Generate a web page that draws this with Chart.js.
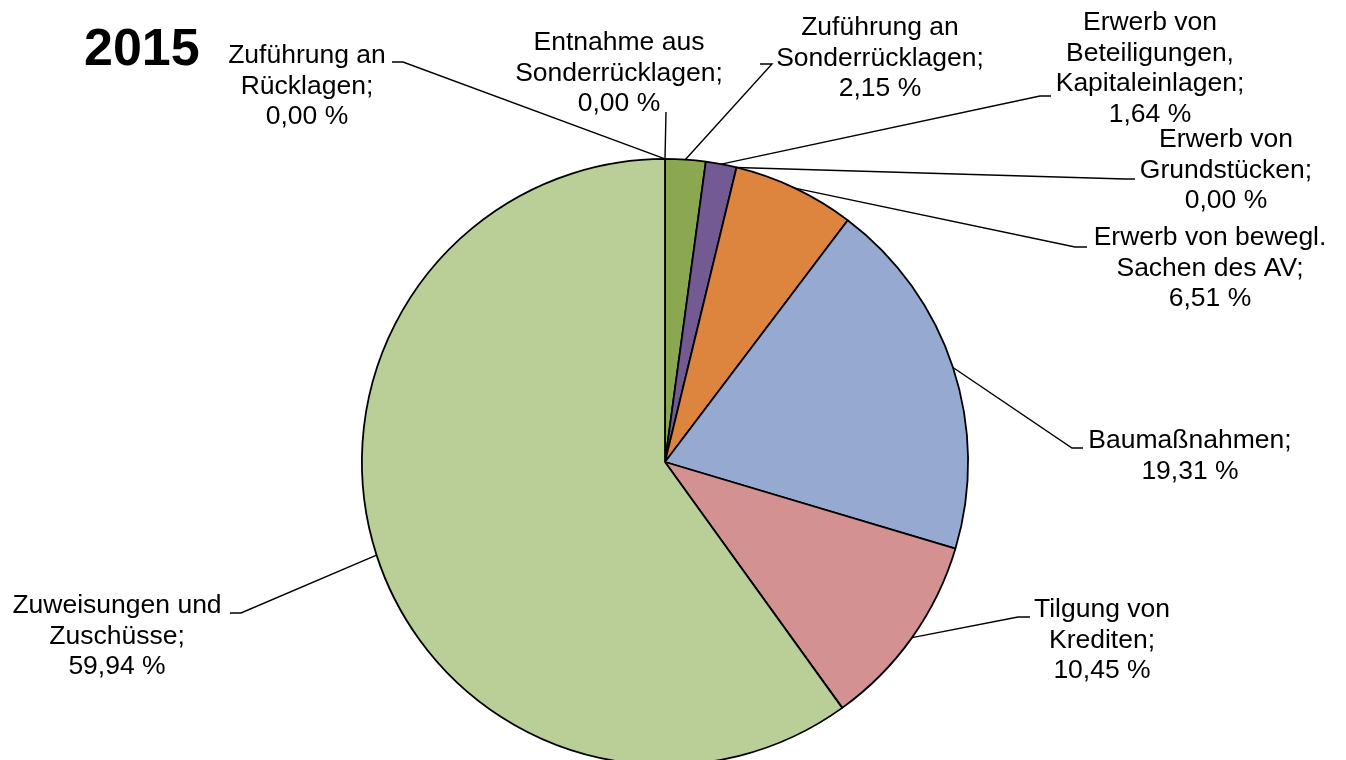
<!DOCTYPE html>
<html>
<head>
<meta charset="utf-8">
<script src="https://cdn.jsdelivr.net/npm/chart.js@4.4.1/dist/chart.umd.min.js"></script>
<style>
    html, body { margin: 0; padding: 0; background: #fff; overflow: hidden; }
    #wrap { position: relative; width: 1346px; height: 800px; }
</style>
</head>
<body>
<div id="wrap"><canvas id="pieChart" width="1346" height="800"></canvas></div>
<script>
// Data
const categories = [
    'Zuführung an Rücklagen',
    'Entnahme aus Sonderrücklagen',
    'Zuführung an Sonderrücklagen',
    'Erwerb von Beteiligungen, Kapitaleinlagen',
    'Erwerb von Grundstücken',
    'Erwerb von bewegl. Sachen des AV',
    'Baumaßnahmen',
    'Tilgung von Krediten',
    'Zuweisungen und Zuschüsse'
];
const labelLines = [
    ['Zuführung an', 'Rücklagen;'],
    ['Entnahme aus', 'Sonderrücklagen;'],
    ['Zuführung an', 'Sonderrücklagen;'],
    ['Erwerb von', 'Beteiligungen,', 'Kapitaleinlagen;'],
    ['Erwerb von', 'Grundstücken;'],
    ['Erwerb von bewegl.', 'Sachen des AV;'],
    ['Baumaßnahmen;'],
    ['Tilgung von', 'Krediten;'],
    ['Zuweisungen und', 'Zuschüsse;']
];
const shares = [0.00, 0.00, 2.15, 1.64, 0.00, 6.51, 19.31, 10.45, 59.94];
const sliceColors = ['#8BA851', '#8BA851', '#8BA851', '#735A92', '#DD843F', '#DD843F', '#95A9D1', '#D39291', '#B9CF97'];
const yearTitle = '2015';

// Label placement: text centre x, first baseline, leader elbow and anchor
const labelLayout = [
    { cx: 307,  y: 63,  elbow: [403, 62],  anchor: [392, 62] },
    { cx: 619,  y: 50,  elbow: [666, 112], anchor: [666, 112] },
    { cx: 880,  y: 35,  elbow: [772, 64],  anchor: [760, 64] },
    { cx: 1150, y: 30,  elbow: [1040, 96], anchor: [1051, 96] },
    { cx: 1226, y: 147, elbow: [1125, 179], anchor: [1135, 179] },
    { cx: 1210, y: 245, elbow: [1075, 247], anchor: [1087, 247] },
    { cx: 1190, y: 448, elbow: [1072, 448], anchor: [1083, 448] },
    { cx: 1102, y: 617, elbow: [1018, 617], anchor: [1030, 617] },
    { cx: 117,  y: 613, elbow: [241, 613], anchor: [230, 613] }
];
const lineHeight = 30.7;
const labelFont = '26.5px "Liberation Sans", Arial, sans-serif';

function fmtPercent(v) {
    return v.toFixed(2).replace('.', ',') + ' %';
}

// Draws leader lines + data labels like the Excel original
const leaderLabels = {
    id: 'leaderLabels',
    afterDatasetsDraw(chart) {
        const ctx = chart.ctx;
        const arcs = chart.getDatasetMeta(0).data;
        ctx.save();
        ctx.strokeStyle = '#000';
        ctx.lineWidth = 1.4;
        arcs.forEach(function(arc, i) {
            const p = arc.getProps(['x', 'y', 'startAngle', 'endAngle', 'outerRadius'], true);
            const mid = (p.startAngle + p.endAngle) / 2;
            const px = p.x + Math.cos(mid) * p.outerRadius;
            const py = p.y + Math.sin(mid) * p.outerRadius;
            const lay = labelLayout[i];
            ctx.beginPath();
            ctx.moveTo(px, py);
            ctx.lineTo(lay.elbow[0], lay.elbow[1]);
            ctx.lineTo(lay.anchor[0], lay.anchor[1]);
            ctx.stroke();

            const lines = labelLines[i].concat([fmtPercent(shares[i])]);
            ctx.fillStyle = '#000';
            ctx.font = labelFont;
            ctx.textAlign = 'center';
            ctx.textBaseline = 'alphabetic';
            lines.forEach(function(t, k) {
                ctx.fillText(t, lay.cx, lay.y + k * lineHeight);
            });
        });

        // Year title
        ctx.font = 'bold 52px "Liberation Sans", Arial, sans-serif';
        ctx.textAlign = 'left';
        ctx.fillText(yearTitle, 84, 65);
        ctx.restore();
    }
};

const ctx = document.getElementById('pieChart').getContext('2d');
new Chart(ctx, {
    type: 'pie',
    data: {
        labels: categories,
        datasets: [{
            data: shares,
            backgroundColor: sliceColors,
            borderColor: '#000',
            borderWidth: 1.8,
            hoverOffset: 0
        }]
    },
    options: {
        responsive: false,
        animation: false,
        layout: {
            padding: { left: 0, right: 16, top: 158, bottom: 34 }
        },
        plugins: {
            legend: { display: false },
            tooltip: { enabled: false }
        }
    },
    plugins: [leaderLabels]
});
</script>
</body>
</html>
